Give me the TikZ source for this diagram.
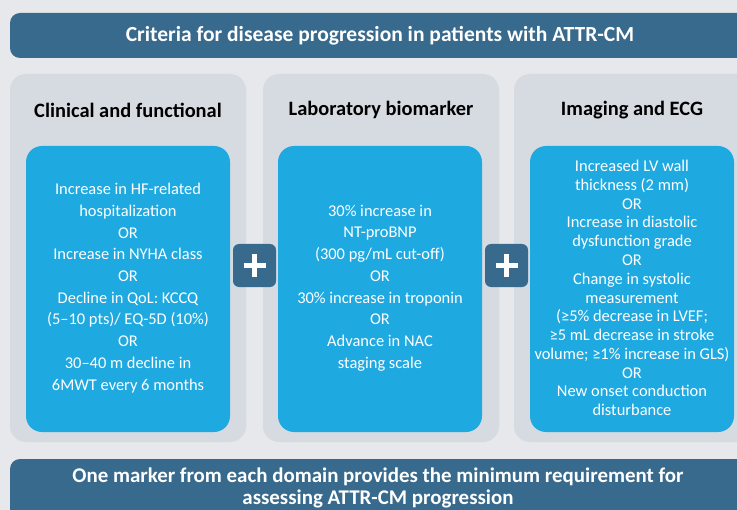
\documentclass[tikz,border=0pt]{standalone}
\usepackage{fontspec}
\setmainfont{Carlito}
\newfontfamily\symfont{DejaVu Sans}
\definecolor{bgc}{HTML}{E6E8EB}
\definecolor{panelc}{HTML}{D6DBE1}
\definecolor{darkc}{HTML}{376A8C}
\definecolor{bluec}{HTML}{1FA9E1}
\tikzset{
  bar/.style={fill=darkc, rounded corners=10bp},
  panel/.style={fill=panelc, rounded corners=16bp},
  inbox/.style={fill=bluec, rounded corners=16bp},
  head/.style={font=\fontsize{20.5}{24}\selectfont\bfseries, text=black},
  body/.style={align=center, text=white, inner sep=0pt},
  plusbox/.style={fill=darkc, rounded corners=6bp},
  plusline/.style={white, line width=5bp},
  bartext/.style={text=white, font=\bfseries, align=center, inner sep=0pt}
}
\begin{document}
\begin{tikzpicture}[x=1bp,y=-1bp]
\useasboundingbox (0,0) rectangle (737,510);
\clip (0,0) rectangle (737,510);
\fill[bgc] (0,0) rectangle (737,510);
% title bar
\fill[bar] (10,13) rectangle (760,58);
\node[bartext, font=\fontsize{21.6}{24}\selectfont\bfseries] (title) at (380,36) {Criteria for disease progression in patients with ATTR-CM};
% panels
\fill[panel] (10,74) rectangle (246,442);
\fill[panel] (263,74) rectangle (499,442);
\fill[panel] (514,74) rectangle (770,442);
\node[head] (h1) at (128,110) {Clinical and functional};
\node[head] (h2) at (381,110) {Laboratory biomarker};
\node[head] (h3) at (632,110) {Imaging and ECG};
% blue boxes
\fill[inbox] (26,146) rectangle (230,432);
\fill[inbox] (278,146) rectangle (482,432);
\fill[inbox] (530,146) rectangle (734,432);
\node[body, font=\fontsize{16.5}{21.8}\selectfont] (b1) at (128,288) {Increase in HF-related\\hospitalization\\OR\\Increase in NYHA class\\OR\\Decline in QoL: KCCQ\\(5–10 pts)/ EQ-5D (10\%)\\OR\\30–40 m decline in\\6MWT every 6 months};
\node[body, font=\fontsize{16.5}{21.8}\selectfont] (b2) at (380,288) {30\% increase in\\NT-proBNP\\(300 pg/mL cut-off)\\OR\\30\% increase in troponin\\OR\\Advance in NAC\\staging scale};
\node[body, font=\fontsize{16.5}{18.85}\selectfont] (b3) at (632,288) {Increased LV wall\\thickness (2 mm)\\OR\\Increase in diastolic\\dysfunction grade\\OR\\Change in systolic\\measurement\\(≥5\% decrease in LVEF;\\≥5 mL decrease in stroke\\volume; ≥1\% increase in GLS)\\OR\\New onset conduction\\disturbance};
% plus signs
\fill[plusbox] (233,244) rectangle (276,287);
\draw[plusline] (243.5,265.5) -- (265.5,265.5);
\draw[plusline] (254.5,254.5) -- (254.5,276.5);
\fill[plusbox] (485,244) rectangle (528,287);
\draw[plusline] (495.5,265.5) -- (517.5,265.5);
\draw[plusline] (506.5,254.5) -- (506.5,276.5);
% bottom bar
\fill[bar] (10,459) rectangle (760,540);
\node[bartext, font=\fontsize{21}{22}\selectfont\bfseries] (foot) at (378,488) {One marker from each domain provides the minimum requirement for\\assessing ATTR-CM progression};
\end{tikzpicture}
\end{document}
